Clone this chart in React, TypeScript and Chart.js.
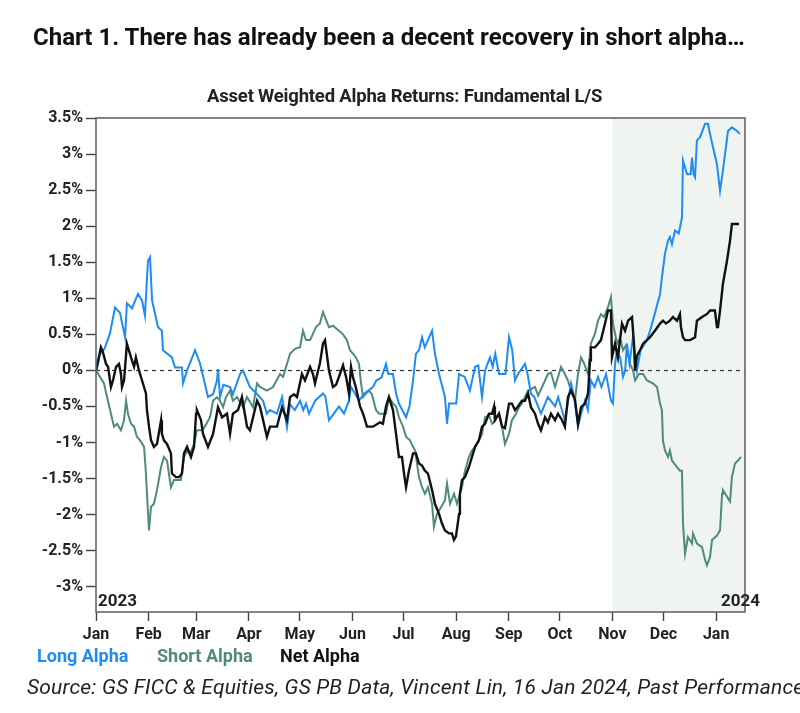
import React, { useEffect, useRef } from "react";
import { Chart, registerables } from "chart.js";

Chart.register(...registerables);

// x = days since 1 Jan 2023, y = cumulative alpha return (%)
const monthStarts = [0, 31, 59, 90, 120, 151, 181, 212, 243, 273, 304, 334, 365];
const monthLabels = ["Jan", "Feb", "Mar", "Apr", "May", "Jun", "Jul", "Aug", "Sep", "Oct", "Nov", "Dec", "Jan"];
const yTicks = [-3, -2.5, -2, -1.5, -1, -0.5, 0, 0.5, 1, 1.5, 2, 2.5, 3, 3.5];
const xMax = 382;
const yMin = -3.35;
const yMax = 3.5;
const shadeStart = 304; // 1 Nov 2023

const longAlpha: number[][] = [
  [0, -0.04], [2.4, 0.23], [5, 0.3], [8.2, 0.51], [11.2, 0.87], [14.1, 0.8], [17.1, 0.46], [18.2, 0.93],
  [21.2, 0.86], [24.7, 1.06], [27.1, 0.97], [28.8, 0.76], [30.6, 1.52], [31.8, 1.57], [33, 0.97], [34.7, 0.79],
  [36.5, 0.6], [38.8, 0.55], [39.4, 0.28], [44.7, 0.18], [46.5, 0.04], [50.6, 0.04], [51.2, -0.18], [53.6, 0],
  [58.3, 0.28], [61.2, 0.1], [62.5, -0.03], [65.9, -0.37], [68.9, -0.33], [71.2, -0.14], [71.8, 0.02], [73, -0.37],
  [75, -0.2], [78.9, -0.23], [80.6, -0.33], [84.8, -0.05], [86.5, 0], [90.6, -0.23], [94.8, -0.33], [98.3, -0.42],
  [100.6, -0.6], [102.4, -0.55], [106.5, -0.6], [109.5, -0.37], [112.4, -0.79], [114.2, -0.47], [117, -0.55],
  [120.1, -0.42], [122, -0.55], [123.6, -0.46], [125.4, -0.6], [129, -0.42], [133.6, -0.32], [135, -0.36],
  [137.1, -0.69], [140, -0.6], [143, -0.5], [146, -0.6], [148.9, -0.42], [150.1, -0.23], [152.4, -0.32],
  [154.8, -0.42], [158, -0.32], [163, -0.23], [165, -0.14], [168, -0.1], [170.7, 0.09], [172, -0.05],
  [174.8, -0.05], [176.6, -0.32], [178.3, -0.46], [182.5, -0.65], [184.5, -0.5], [186.6, -0.14], [188.3, 0.23],
  [190.1, 0.28], [191.9, 0.46], [193.5, 0.32], [197.8, 0.55], [199.5, 0.23], [201.9, -0.05], [205.4, -0.37],
  [206.6, -0.74], [207.8, -0.46], [212, -0.46], [213.7, -0.05], [217, -0.09], [220.1, -0.28], [223.1, 0.05],
  [225, 0.07], [227.2, -0.37], [229, 0], [231.9, 0.18], [233.5, 0.05], [235, 0.23], [237.2, -0.05], [241, -0.05],
  [243.1, 0.46], [245, 0.28], [246.6, -0.14], [248.4, -0.05], [252.5, 0.09], [254, -0.05], [256, -0.32],
  [258, -0.37], [261.9, -0.6], [266, -0.37], [270.2, -0.5], [272, -0.37], [276, -0.69], [279.6, -0.18],
  [281.5, -0.37], [283.7, -0.78], [285.5, -0.6], [287.8, -0.42], [289.5, -0.55], [291.3, -0.14], [293.5, -0.23],
  [295.5, -0.09], [297.5, -0.23], [300.2, -0.05], [303.1, -0.42], [304.3, -0.46], [305.5, 0.09], [306.7, 0.28],
  [308.5, 0.18], [310.2, -0.09], [311.5, 0], [312.5, 0.37], [314, 0.1], [316.1, 0.46], [318.4, 0], [320.5, 0.28],
  [324.3, 0.42], [326.1, 0.55], [327.8, 0.69], [332, 1.06], [333.1, 1.29], [334.9, 1.62], [336.7, 1.8],
  [337.8, 1.85], [339, 1.75], [340.8, 1.94], [343, 1.9], [344.9, 2.12], [345.5, 2.91], [347.9, 2.72], [350, 2.72],
  [350.8, 2.95], [351.8, 2.72], [352.6, 2.68], [353.7, 3.19], [355.5, 3.23], [358.5, 3.42], [360.2, 3.42],
  [361.4, 3.28], [363.2, 3.09], [365.5, 2.86], [367.3, 2.49], [369, 2.77], [372, 3.32], [374.3, 3.37],
  [377.3, 3.32], [379, 3.28],
];

const shortAlpha: number[][] = [
  [0, 0], [4.7, -0.18], [6.5, -0.37], [8.8, -0.6], [10.6, -0.78], [12.4, -0.74], [14.7, -0.83], [16.5, -0.69],
  [17.7, -0.42], [18.8, -0.6], [20.6, -0.74], [22.4, -0.78], [24.1, -0.92], [25.9, -0.97], [28.3, -1.06],
  [29.4, -1.43], [30, -1.71], [31.2, -2.22], [32.4, -1.89], [34.1, -1.85], [35.9, -1.66], [38.3, -1.34],
  [40, -1.2], [41.8, -1.25], [44.1, -1.62], [45.9, -1.52], [50, -1.52], [51.8, -1.2], [53.6, -1.11],
  [55.3, -1.16], [57.7, -1.02], [59.4, -0.83], [61.8, -0.83], [63.6, -0.8], [67.1, -0.65], [68.9, -0.42],
  [71.2, -0.37], [73, -0.42], [74.8, -0.51], [76.5, -0.37], [78.9, -0.28], [80.6, -0.42], [83, -0.37],
  [86.5, -0.51], [88.9, -0.37], [92.4, -0.51], [94.8, -0.18], [96.5, -0.23], [100.6, -0.28], [104.2, -0.23],
  [108.3, -0.05], [110.1, -0.09], [112.4, 0.09], [114.2, 0.23], [117.1, 0.3], [120.1, 0.32], [121.8, 0.55],
  [123.6, 0.42], [126, 0.42], [129.5, 0.6], [131.8, 0.65], [133.6, 0.81], [135.4, 0.7], [137.1, 0.6],
  [139.5, 0.62], [143, 0.55], [145.4, 0.5], [147.7, 0.42], [149.5, 0.28], [151.3, 0.23], [153, 0.18],
  [154.8, 0.09], [156, -0.18], [157.2, -0.37], [158.9, -0.32], [160.7, -0.28], [162.4, -0.33], [164.8, -0.55],
  [166.6, -0.6], [170.7, -0.6], [172.4, -0.37], [174.8, -0.46], [176.6, -0.5], [178.3, -0.65], [180.7, -0.78],
  [182.5, -0.92], [184.8, -0.97], [186.6, -1.06], [187.8, -1.11], [190.1, -1.48], [191.9, -1.62],
  [193.6, -1.71], [195.4, -1.62], [197.8, -1.85], [198.9, -2.17], [200.7, -1.99], [203, -1.9], [205.4, -1.8],
  [206.6, -1.57], [208.4, -1.85], [210.7, -1.71], [212.5, -1.85], [215.4, -1.62], [217.2, -1.39],
  [219.5, -1.2], [221.3, -1.11], [223.1, -1.06], [225.4, -0.97], [227.2, -0.88], [229, -0.65], [231.3, -0.62],
  [233.1, -0.74], [234.8, -0.7], [237.2, -0.6], [239, -0.78], [240.7, -1.02], [243.1, -0.88], [244.8, -0.69],
  [247.2, -0.6], [249, -0.51], [250.7, -0.46], [254.3, -0.28], [258.4, -0.23], [260.2, -0.35], [264.3, -0.14],
  [266, -0.05], [267.8, -0.03], [270.2, -0.23], [273.7, 0.05], [276, -0.05], [277.8, -0.14], [279.6, -0.28],
  [281.9, -0.42], [283.7, -0.05], [285.5, 0.18], [287.2, 0.1], [289.6, -0.05], [291.3, 0.37], [293.7, 0.51],
  [295.5, 0.69], [297.2, 0.78], [299, 0.74], [301.4, 0.88], [303.1, 1.02], [304.3, 0.65], [306.7, 0.37],
  [308.5, 0.45], [310.2, 0.28], [312, 0.35], [314.3, 0.09], [316.1, 0], [317.3, -0.14], [319.6, -0.05],
  [322, -0.05], [324.3, -0.14], [327.8, -0.18], [330.2, -0.23], [332, -0.46], [333.1, -0.55], [333.7, -0.97],
  [334.9, -1.11], [336.7, -1.2], [337.8, -1.11], [339, -1.25], [342, -1.34], [343.7, -1.39], [344.9, -1.39],
  [345.5, -2.12], [346.7, -2.54], [348.4, -2.31], [350.8, -2.4], [351.4, -2.26], [353.7, -2.4], [356.7, -2.45],
  [358.5, -2.63], [359.6, -2.7], [361.4, -2.59], [362.6, -2.35], [365.5, -2.29], [367.3, -2.22], [368.5, -1.71],
  [369, -1.66], [371.4, -1.75], [373.2, -1.82], [374.3, -1.48], [376.1, -1.29], [377.9, -1.25], [379.6, -1.2],
];

const netAlpha: number[][] = [
  [0, 0], [2.9, 0.32], [4.1, 0.25], [5.9, 0.09], [7.1, 0.05], [8.8, -0.23], [10, -0.14], [11.8, 0.05],
  [13.5, 0.09], [14.7, -0.05], [15.3, -0.23], [16.5, -0.14], [18.2, 0.37], [20.6, 0.18], [22.4, 0.05],
  [23.5, 0.18], [25.3, 0], [27.1, -0.14], [29.4, -0.32], [30, -0.55], [31.2, -0.78], [32.4, -0.97],
  [34.1, -1.06], [35.9, -1.02], [38.3, -0.69], [38.8, -0.88], [40, -0.97], [41.8, -1.02], [44.1, -1.15],
  [44.7, -1.43], [47.1, -1.48], [48.9, -1.48], [50.6, -1.43], [51.8, -1.15], [53.6, -1.06], [55.9, -1.2],
  [57.7, -1.06], [58.9, -0.6], [59.4, -0.55], [61.8, -0.69], [63, -0.88], [65.9, -1.06], [68.9, -0.88],
  [71.8, -0.51], [74.2, -0.65], [77.1, -0.6], [78.9, -0.88], [80.6, -0.6], [83.6, -0.55], [85.9, -0.37],
  [88.9, -0.78], [90.6, -0.83], [94.8, -0.42], [96.5, -0.5], [100.6, -0.92], [102.4, -0.78], [106.5, -0.78],
  [109.5, -0.51], [112.4, -0.69], [114.2, -0.37], [116.5, -0.33], [118.3, -0.37], [121.2, -0.05], [123, -0.14],
  [126, 0.05], [127.7, -0.05], [128.9, -0.18], [131.8, 0.1], [133.6, 0.37], [134.8, 0.42], [136, 0.2],
  [137.1, 0], [139.5, -0.23], [141.3, -0.2], [143.6, -0.05], [145.4, 0.07], [147.2, -0.09], [148.9, -0.32],
  [150.1, 0.05], [151.3, -0.1], [152.9, -0.23], [155.4, -0.5], [157.2, -0.6], [159.5, -0.78], [163, -0.78],
  [167.2, -0.72], [168.9, -0.74], [170.7, -0.5], [172.4, -0.37], [174.8, -0.55], [176.6, -0.88], [178.3, -1.2],
  [180.1, -1.2], [181.3, -1.43], [182.5, -1.62], [184.2, -1.39], [186.6, -1.15], [188.3, -1.15], [190.1, -1.29],
  [191.9, -1.32], [193.6, -1.39], [195.4, -1.43], [197.8, -1.66], [199.5, -1.85], [201.9, -1.99],
  [203.6, -2.12], [205.4, -2.22], [207.8, -2.26], [209.5, -2.26], [210.7, -2.35], [211.9, -2.3],
  [213.7, -1.99], [214.2, -1.71], [215.4, -1.52], [217.2, -1.48], [219.5, -1.34], [221.3, -1.2], [223.1, -1.06],
  [225.4, -0.97], [227.2, -0.78], [229, -0.74], [231.3, -0.6], [233.1, -0.6], [234.3, -0.5], [234.8, -0.69],
  [237.2, -0.6], [239, -0.78], [240.7, -0.8], [243.1, -0.46], [244.8, -0.46], [246.6, -0.55], [248.4, -0.5],
  [250.7, -0.42], [252.5, -0.42], [254.3, -0.32], [256, -0.51], [258.4, -0.6], [260.2, -0.74], [261.9, -0.83],
  [264.3, -0.65], [266, -0.72], [267.8, -0.6], [270.2, -0.69], [271.9, -0.6], [274.3, -0.69], [276, -0.78],
  [277.8, -0.37], [279.6, -0.28], [281.9, -0.4], [283.7, -0.74], [285.5, -0.51], [287.8, -0.46], [289.6, -0.32],
  [290.8, 0.14], [291.3, 0.32], [293.7, 0.32], [295.5, 0.37], [297.2, 0.42], [299.6, 0.65], [301.4, 0.83],
  [303.1, 0.83], [303.7, 0.18], [305.5, 0.37], [307.2, 0.18], [309.6, 0.65], [311.4, 0.55], [313.2, 0.69],
  [315.5, 0.74], [316.7, 0.35], [317.3, 0], [318.4, 0.2], [320.2, 0.28], [322, 0.37], [326.1, 0.46],
  [329, 0.55], [332, 0.65], [333.7, 0.69], [335.5, 0.65], [337.8, 0.69], [339.6, 0.74], [342, 0.69],
  [343.7, 0.78], [344.3, 0.6], [345.5, 0.46], [346.7, 0.42], [349.7, 0.42], [352.6, 0.46], [353.7, 0.69],
  [356.7, 0.74], [359.6, 0.78], [361.4, 0.83], [364.3, 0.83], [365.5, 0.6], [366.1, 0.6], [367.3, 0.83],
  [369, 1.2], [371.4, 1.52], [373.2, 1.8], [374.3, 2.03], [376.1, 2.03], [378.5, 2.03],
];

const LONG_COLOR = "#1e8cf0";
const SHORT_COLOR = "#4f8a7c";
const NET_COLOR = "#111111";
const FONT = "Roboto, 'Noto Sans', sans-serif";

const toPoints = (arr: number[][]) => arr.map(([x, y]) => ({ x, y }));

const decorPlugin = {
  id: "decor",
  beforeDatasetsDraw(chart: any) {
    const { ctx, chartArea: a, scales } = chart;
    const x = scales.x;
    const y = scales.y;
    ctx.save();
    const sx = x.getPixelForValue(shadeStart);
    ctx.fillStyle = "#eff4f1";
    ctx.fillRect(sx, a.top, a.right - sx, a.bottom - a.top);
    const zy = Math.round(y.getPixelForValue(0)) + 0.5;
    ctx.setLineDash([4, 4]);
    ctx.strokeStyle = "#333";
    ctx.lineWidth = 1.2;
    ctx.beginPath();
    ctx.moveTo(a.left, zy);
    ctx.lineTo(a.right, zy);
    ctx.stroke();
    ctx.restore();
  },
  afterDraw(chart: any) {
    const { ctx, chartArea: a } = chart;
    ctx.save();
    ctx.strokeStyle = "#666";
    ctx.lineWidth = 1.6;
    ctx.strokeRect(a.left, a.top, a.right - a.left, a.bottom - a.top);
    ctx.fillStyle = "#222";
    ctx.font = `bold 17px ${FONT}`;
    ctx.textBaseline = "alphabetic";
    ctx.textAlign = "left";
    ctx.fillText("2023", a.left + 2, a.bottom - 6);
    ctx.textAlign = "right";
    ctx.fillText("2024", a.right + 15, a.bottom - 6);
    ctx.restore();
  },
};

export default function App() {
  const canvasRef = useRef<HTMLCanvasElement | null>(null);

  useEffect(() => {
    if (!canvasRef.current) return;
    const tickFont = { family: FONT, weight: "bold" as const, size: 16 };
    const chart = new Chart(canvasRef.current, {
      type: "line",
      data: {
        datasets: [
          {
            label: "Net Alpha",
            data: toPoints(netAlpha),
            borderColor: NET_COLOR,
            borderWidth: 2.4,
            order: 0,
          },
          {
            label: "Long Alpha",
            data: toPoints(longAlpha),
            borderColor: LONG_COLOR,
            borderWidth: 2,
            order: 1,
          },
          {
            label: "Short Alpha",
            data: toPoints(shortAlpha),
            borderColor: SHORT_COLOR,
            borderWidth: 2,
            order: 2,
          },
        ],
      },
      options: {
        responsive: false,
        animation: false,
        parsing: false as any,
        layout: { padding: { left: 0, top: 118, right: 55, bottom: 0 } },
        elements: { point: { radius: 0 }, line: { tension: 0, fill: false } },
        plugins: {
          legend: { display: false },
          tooltip: { enabled: false },
          title: { display: false },
        },
        scales: {
          x: {
            type: "linear",
            min: 0,
            max: xMax,
            afterBuildTicks: (s: any) => {
              s.ticks = monthStarts.map((v) => ({ value: v }));
            },
            afterFit: (s: any) => {
              s.height = 101;
            },
            grid: {
              drawOnChartArea: false,
              drawTicks: true,
              tickLength: 9,
              tickColor: "#444",
              tickWidth: 1.4,
            } as any,
            border: { display: false },
            ticks: {
              autoSkip: false,
              maxRotation: 0,
              padding: 4,
              color: "#222",
              font: tickFont,
              callback: (_v: any, i: number) => monthLabels[i],
            },
          },
          y: {
            type: "linear",
            min: yMin,
            max: yMax,
            afterBuildTicks: (s: any) => {
              s.ticks = yTicks.map((v) => ({ value: v }));
            },
            afterFit: (s: any) => {
              s.width = 96;
            },
            grid: {
              drawOnChartArea: false,
              drawTicks: true,
              tickLength: 10,
              tickColor: "#444",
              tickWidth: 1.4,
            } as any,
            border: { display: false },
            ticks: {
              autoSkip: false,
              padding: 3,
              color: "#222",
              font: tickFont,
              callback: (v: any) => `${v}%`,
            },
          },
        },
      },
      plugins: [decorPlugin],
    });
    return () => chart.destroy();
  }, []);

  const text = (style: React.CSSProperties): React.CSSProperties => ({
    position: "absolute",
    margin: 0,
    whiteSpace: "nowrap",
    lineHeight: 1,
    fontFamily: FONT,
    ...style,
  });

  return (
    <div
      style={{
        position: "absolute",
        left: 0,
        top: 0,
        width: 800,
        height: 713,
        background: "#fff",
        overflow: "hidden",
      }}
    >
      <canvas ref={canvasRef} width={800} height={713} style={{ position: "absolute", left: 0, top: 0 }} />
      <div style={text({ left: 33, top: 25, fontSize: 24, fontWeight: 700, color: "#111", letterSpacing: 0 })}>
        Chart 1. There has already been a decent recovery in short alpha…
      </div>
      <div
        style={text({
          left: 207,
          top: 87,
          fontSize: 18.5,
          fontWeight: 700,
          color: "#222",
          letterSpacing: -0.2,
        })}
      >
        Asset Weighted Alpha Returns: Fundamental L/S
      </div>
      <div style={text({ left: 37, top: 647, fontSize: 18, fontWeight: 700, color: LONG_COLOR })}>Long Alpha</div>
      <div style={text({ left: 157, top: 647, fontSize: 18, fontWeight: 700, color: SHORT_COLOR })}>Short Alpha</div>
      <div style={text({ left: 280, top: 647, fontSize: 18, fontWeight: 700, color: NET_COLOR })}>Net Alpha</div>
      <div style={text({ left: 27, top: 677, fontSize: 21, fontStyle: "italic", color: "#222", letterSpacing: 0.2 })}>
        Source: GS FICC &amp; Equities, GS PB Data, Vincent Lin, 16 Jan 2024, Past Performance is not indicative of future results
      </div>
    </div>
  );
}
